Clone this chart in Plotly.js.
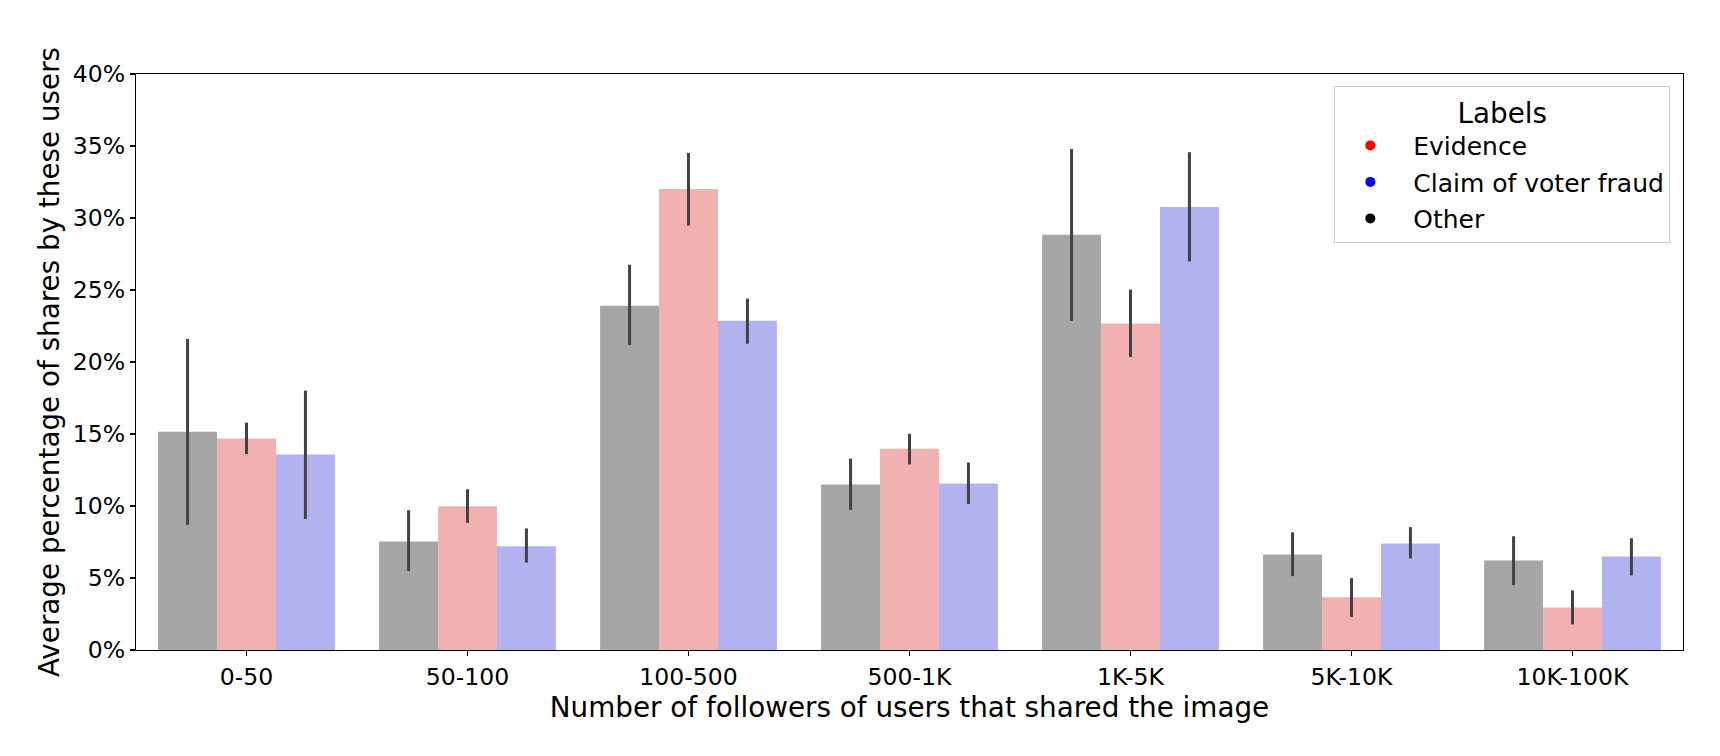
<!DOCTYPE html>
<html>
<head>
<meta charset="utf-8">
<script src="https://cdn.plot.ly/plotly-3.0.1.min.js"></script>
<style>html,body{margin:0;padding:0;background:#fff;}#chart{width:1720px;height:756px;}</style>
</head>
<body>
<div id="chart"></div>
<script>
var categories = ["0-50", "50-100", "100-500", "500-1K", "1K-5K", "5K-10K", "10K-100K"];

var otherValues = [15.16, 7.54, 23.91, 11.49, 28.84, 6.63, 6.22];
var otherLower  = [8.69, 5.48, 21.17, 9.73, 22.86, 5.13, 4.50];
var otherUpper  = [21.60, 9.71, 26.76, 13.30, 34.79, 8.17, 7.90];

var evidenceValues = [14.69, 9.98, 32.02, 13.98, 22.67, 3.67, 2.96];
var evidenceLower  = [13.60, 8.83, 29.47, 12.89, 20.34, 2.30, 1.78];
var evidenceUpper  = [15.79, 11.16, 34.52, 15.02, 25.03, 4.99, 4.14];

var claimValues = [13.57, 7.21, 22.86, 11.57, 30.76, 7.40, 6.50];
var claimLower  = [9.10, 6.06, 21.27, 10.14, 26.98, 6.36, 5.18];
var claimUpper  = [18.01, 8.44, 24.40, 13.02, 34.57, 8.53, 7.76];

var yTickValues = [0, 5, 10, 15, 20, 25, 30, 35, 40];
var yTickLabels = ["0%", "5%", "10%", "15%", "20%", "25%", "30%", "35%", "40%"];

function diff(a, b) { return a.map(function (v, i) { return v - b[i]; }); }

var errColor = "#424242";
function barTrace(name, vals, lo, hi, color) {
  return {
    type: "bar", name: name, x: categories, y: vals,
    marker: {color: color, line: {width: 0}},
    error_y: {type: "data", symmetric: false, array: diff(hi, vals), arrayminus: diff(vals, lo),
              color: errColor, thickness: 3, width: 0},
    showlegend: false, hoverinfo: "x+y"
  };
}
function legendTrace(name, color, grp) {
  return {type: "scatter", mode: "markers", name: "\u00a0" + name, x: [null], y: [null],
          marker: {color: color, size: 10}, showlegend: true, legendgroup: grp};
}

var data = [
  barTrace("Other", otherValues, otherLower, otherUpper, "#a6a6a6"),
  barTrace("Evidence", evidenceValues, evidenceLower, evidenceUpper, "#f2b1b1"),
  barTrace("Claim of voter fraud", claimValues, claimLower, claimUpper, "#b2b2f0"),
  legendTrace("Evidence", "#ff0000", "a"),
  legendTrace("Claim of voter fraud", "#0000ff", "b"),
  legendTrace("Other", "#000000", "c")
];

var font = "DejaVu Sans, sans-serif";
var layout = {
  width: 1720, height: 756,
  paper_bgcolor: "#ffffff", plot_bgcolor: "#ffffff",
  margin: {l: 136, r: 37, t: 73.5, b: 106, pad: 0},
  barmode: "group", bargap: 0.2, bargroupgap: 0,
  font: {family: font, size: 23.6, color: "#000"},
  xaxis: {
    type: "category", range: [-0.5, 6.5],
    showline: true, linecolor: "#000", linewidth: 1.2, mirror: true,
    ticks: "outside", ticklen: 5, tickwidth: 1.2, tickcolor: "#000",
    showgrid: false, zeroline: false,
    tickfont: {family: font, size: 23.6, color: "#000"},
    title: {text: "Number of followers of users that shared the image", font: {family: font, size: 27.8, color: "#000"}, standoff: 0},
    automargin: true
  },
  yaxis: {
    range: [0, 40], tickmode: "array", tickvals: yTickValues, ticktext: yTickLabels,
    showline: true, linecolor: "#000", linewidth: 1.2, mirror: true,
    ticks: "outside", ticklen: 5, tickwidth: 1.2, tickcolor: "#000",
    showgrid: false, zeroline: false,
    tickfont: {family: font, size: 23.6, color: "#000"},
    title: {text: "Average percentage of shares by these users", font: {family: font, size: 27.8, color: "#000"}, standoff: 4.5},
    automargin: true
  },
  legend: {
    x: 0.9918, xanchor: "right", y: 0.98, yanchor: "top",
    bgcolor: "rgba(255,255,255,0.8)", bordercolor: "#cccccc", borderwidth: 1,
    font: {family: font, size: 25, color: "#000"},
    title: {text: "Labels", font: {family: font, size: 27.8, color: "#000"}, side: "top center"},
    tracegroupgap: 1, itemwidth: 60,
    traceorder: "grouped"
  }
};

Plotly.newPlot("chart", data, layout, {displayModeBar: false, staticPlot: true});
</script>
</body>
</html>
